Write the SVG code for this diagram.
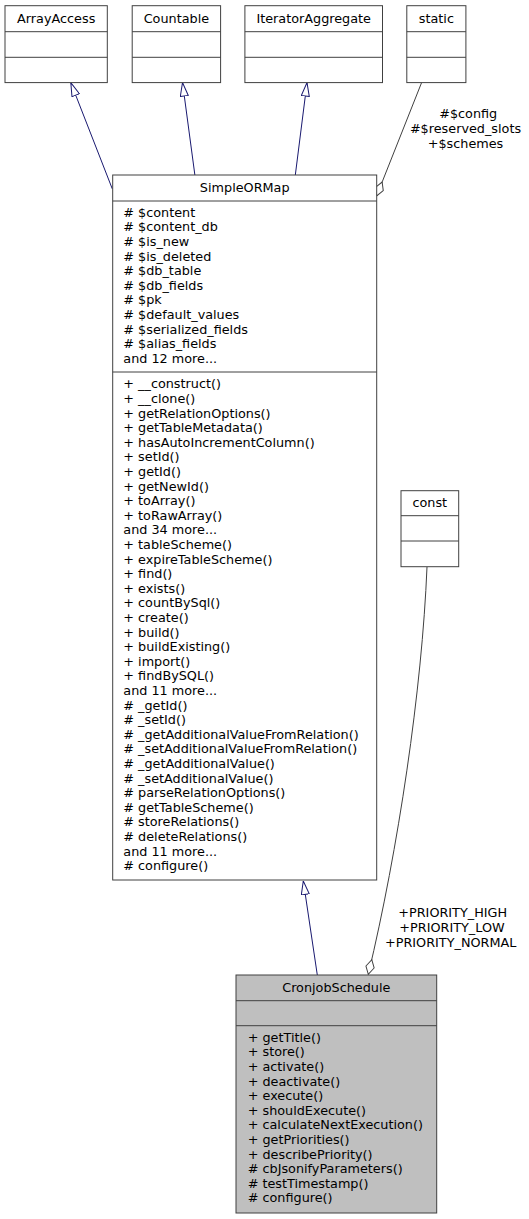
<svg xmlns="http://www.w3.org/2000/svg" width="529" height="1219" viewBox="0 0 529 1219">
<style>
text{font-family:"DejaVu Sans",sans-serif;font-size:12.8px;fill:#000}
.c{text-anchor:middle}
.box{fill:#fff;stroke:#404040;stroke-width:1}
.sel{fill:#bfbfbf;stroke:#404040;stroke-width:1}
.sep{stroke:#404040;stroke-width:1;fill:none}
.inh{fill:none;stroke:#191970;stroke-width:1;marker-end:url(#tri)}
.agg{fill:none;stroke:#404040;stroke-width:1;marker-end:url(#dia)}
</style>
<defs>
<marker id="tri" markerUnits="userSpaceOnUse" viewBox="0 0 14 9" refX="14" refY="4.5" markerWidth="14" markerHeight="9" orient="auto">
<path d="M0.5,0.5 L14,4.5 L0.5,8.5 z" fill="#fff" stroke="#191970" stroke-width="1"/>
</marker>
<marker id="dia" markerUnits="userSpaceOnUse" viewBox="0 0 16 10" refX="15.5" refY="5" markerWidth="16" markerHeight="10" orient="auto">
<path d="M0.5,5 L8,0.8 L15.5,5 L8,9.2 z" fill="#fff" stroke="#404040" stroke-width="1"/>
</marker>
</defs>
<rect width="529" height="1219" fill="#fff"/>

<g id="connectors">
<path class="inh" d="M112.3,188.9 L70.8,82.6"/>
<path class="inh" d="M195,176 L182.5,82.6"/>
<path class="inh" d="M295.2,176 L307,82.6"/>
<path class="agg" d="M421.6,82.6 L376.6,196"/>
<path class="inh" d="M317.3,975 L303.3,881"/>
<path class="agg" d="M427,567 C422,690 398,850 368.3,974.3"/>
<text class="c" x="468.2" y="118.3">#$config</text>
<text class="c" x="465.5" y="133.3">#$reserved_slots</text>
<text class="c" x="465.5" y="148.3">+$schemes</text>
<text class="c" x="452.7" y="917">+PRIORITY_HIGH</text>
<text class="c" x="452" y="932">+PRIORITY_LOW</text>
<text class="c" x="450.7" y="947">+PRIORITY_NORMAL</text>
</g>

<g id="ArrayAccess">
<rect class="box" x="5" y="5.7" width="102.3" height="76.9"/>
<path class="sep" d="M5,31.7 H107.3 M5,57.3 H107.3"/>
<text class="c" x="56.2" y="22.8">ArrayAccess</text>
</g>
<g id="Countable">
<rect class="box" x="132.2" y="5.7" width="88.4" height="76.9"/>
<path class="sep" d="M132.2,31.7 H220.6 M132.2,57.3 H220.6"/>
<text class="c" x="176.4" y="22.8">Countable</text>
</g>
<g id="IteratorAggregate">
<rect class="box" x="244.9" y="5.7" width="137.6" height="76.9"/>
<path class="sep" d="M244.9,31.7 H382.5 M244.9,57.3 H382.5"/>
<text class="c" x="313.7" y="22.8">IteratorAggregate</text>
</g>
<g id="static">
<rect class="box" x="406.8" y="5.7" width="59.1" height="76.9"/>
<path class="sep" d="M406.8,31.7 H465.9 M406.8,57.3 H465.9"/>
<text class="c" x="436.4" y="22.8">static</text>
</g>

<g id="SimpleORMap">
<rect class="box" x="112.7" y="175" width="264" height="705"/>
<path class="sep" d="M112.7,201 H376.7 M112.7,372 H376.7"/>
<text class="c" x="244.7" y="192">SimpleORMap</text>
<text x="123.3" y="216.7">
<tspan x="123.3" dy="0"># $content</tspan>
<tspan x="123.3" dy="14.6"># $content_db</tspan>
<tspan x="123.3" dy="14.6"># $is_new</tspan>
<tspan x="123.3" dy="14.6"># $is_deleted</tspan>
<tspan x="123.3" dy="14.6"># $db_table</tspan>
<tspan x="123.3" dy="14.6"># $db_fields</tspan>
<tspan x="123.3" dy="14.6"># $pk</tspan>
<tspan x="123.3" dy="14.6"># $default_values</tspan>
<tspan x="123.3" dy="14.6"># $serialized_fields</tspan>
<tspan x="123.3" dy="14.6"># $alias_fields</tspan>
<tspan x="123.3" dy="14.6">and 12 more...</tspan>
</text>
<text x="123.3" y="388.3">
<tspan x="123.3" dy="0">+ __construct()</tspan>
<tspan x="123.3" dy="14.6">+ __clone()</tspan>
<tspan x="123.3" dy="14.6">+ getRelationOptions()</tspan>
<tspan x="123.3" dy="14.6">+ getTableMetadata()</tspan>
<tspan x="123.3" dy="14.6">+ hasAutoIncrementColumn()</tspan>
<tspan x="123.3" dy="14.6">+ setId()</tspan>
<tspan x="123.3" dy="14.6">+ getId()</tspan>
<tspan x="123.3" dy="14.6">+ getNewId()</tspan>
<tspan x="123.3" dy="14.6">+ toArray()</tspan>
<tspan x="123.3" dy="14.6">+ toRawArray()</tspan>
<tspan x="123.3" dy="14.6">and 34 more...</tspan>
<tspan x="123.3" dy="14.6">+ tableScheme()</tspan>
<tspan x="123.3" dy="14.6">+ expireTableScheme()</tspan>
<tspan x="123.3" dy="14.6">+ find()</tspan>
<tspan x="123.3" dy="14.6">+ exists()</tspan>
<tspan x="123.3" dy="14.6">+ countBySql()</tspan>
<tspan x="123.3" dy="14.6">+ create()</tspan>
<tspan x="123.3" dy="14.6">+ build()</tspan>
<tspan x="123.3" dy="14.6">+ buildExisting()</tspan>
<tspan x="123.3" dy="14.6">+ import()</tspan>
<tspan x="123.3" dy="14.6">+ findBySQL()</tspan>
<tspan x="123.3" dy="14.6">and 11 more...</tspan>
<tspan x="123.3" dy="14.6"># _getId()</tspan>
<tspan x="123.3" dy="14.6"># _setId()</tspan>
<tspan x="123.3" dy="14.6"># _getAdditionalValueFromRelation()</tspan>
<tspan x="123.3" dy="14.6"># _setAdditionalValueFromRelation()</tspan>
<tspan x="123.3" dy="14.6"># _getAdditionalValue()</tspan>
<tspan x="123.3" dy="14.6"># _setAdditionalValue()</tspan>
<tspan x="123.3" dy="14.6"># parseRelationOptions()</tspan>
<tspan x="123.3" dy="14.6"># getTableScheme()</tspan>
<tspan x="123.3" dy="14.6"># storeRelations()</tspan>
<tspan x="123.3" dy="14.6"># deleteRelations()</tspan>
<tspan x="123.3" dy="14.6">and 11 more...</tspan>
<tspan x="123.3" dy="14.6"># configure()</tspan>
</text>
</g>

<g id="const">
<rect class="box" x="401" y="490.7" width="57.7" height="76"/>
<path class="sep" d="M401,515.7 H458.7 M401,541 H458.7"/>
<text class="c" x="429.8" y="507">const</text>
</g>

<g id="CronjobSchedule">
<rect class="sel" x="236" y="975" width="200.7" height="238"/>
<path class="sep" d="M236,1000.7 H436.7 M236,1025.7 H436.7"/>
<text class="c" x="336.3" y="991.5">CronjobSchedule</text>
<text x="247.7" y="1041.7">
<tspan x="247.7" dy="0">+ getTitle()</tspan>
<tspan x="247.7" dy="14.6">+ store()</tspan>
<tspan x="247.7" dy="14.6">+ activate()</tspan>
<tspan x="247.7" dy="14.6">+ deactivate()</tspan>
<tspan x="247.7" dy="14.6">+ execute()</tspan>
<tspan x="247.7" dy="14.6">+ shouldExecute()</tspan>
<tspan x="247.7" dy="14.6">+ calculateNextExecution()</tspan>
<tspan x="247.7" dy="14.6">+ getPriorities()</tspan>
<tspan x="247.7" dy="14.6">+ describePriority()</tspan>
<tspan x="247.7" dy="14.6"># cbJsonifyParameters()</tspan>
<tspan x="247.7" dy="14.6"># testTimestamp()</tspan>
<tspan x="247.7" dy="14.6"># configure()</tspan>
</text>
</g>
</svg>
